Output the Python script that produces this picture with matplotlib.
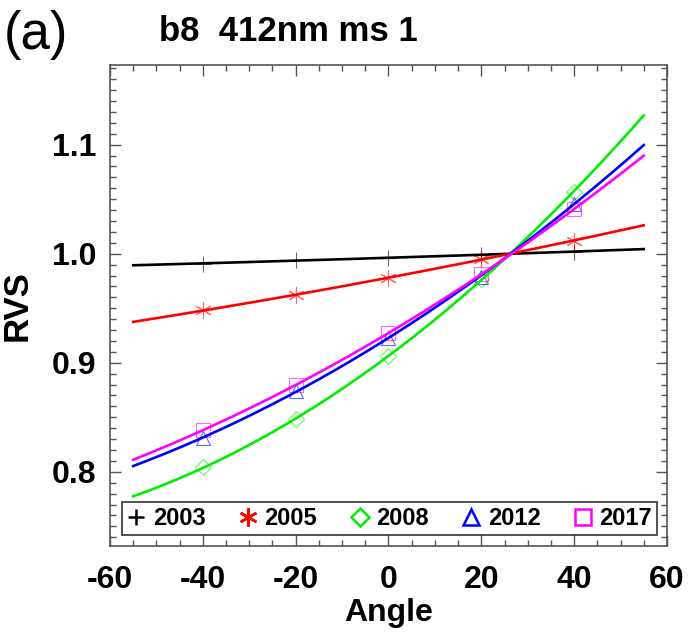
import numpy as np
import matplotlib
matplotlib.use("Agg")
import matplotlib.pyplot as plt
from matplotlib.ticker import MultipleLocator

plt.rcParams["font.family"] = ["Liberation Sans", "DejaVu Sans"]
plt.rcParams["axes.unicode_minus"] = False

# Data
angles = [-40, -20, 0, 20, 40]
years = ["2003", "2005", "2008", "2012", "2017"]
rvs_2003 = [0.991, 0.994, 0.996, 0.999, 1.002]
rvs_2005 = [0.948, 0.962, 0.978, 0.995, 1.012]
rvs_2008 = [0.804, 0.848, 0.906, 0.977, 1.057]
rvs_2012 = [0.831, 0.874, 0.923, 0.979, 1.046]
rvs_2017 = [0.838, 0.880, 0.927, 0.981, 1.041]
fit_range = [-55, 55]

series = [rvs_2003, rvs_2005, rvs_2008, rvs_2012, rvs_2017]
colors = ["black", "#ff0000", "#00ee00", "#0000ff", "#ff00ff"]
markers = ["+", (6, 2, 0), "D", "^", "s"]
msizes = [11, 12, 8, 10, 10]

fig = plt.figure(figsize=(6.9, 6.38), dpi=100)
ax = fig.add_axes([0.1594, 0.1442, 0.8072, 0.7539])

xf = np.linspace(fit_range[0], fit_range[1], 200)
handles = []
for vals, c, m, ms, lab in zip(series, colors, markers, msizes, years):
    # quadratic fit through the measured points
    coef = np.polyfit(angles, vals, 2)
    ax.plot(xf, np.polyval(coef, xf), color=c, lw=1.9, zorder=3)
    ax.plot(angles, vals, linestyle="none", marker=m, ms=ms,
            mfc="none", mec=c, mew=0.8, alpha=0.6, zorder=2)
    h, = ax.plot([], [], linestyle="none", marker=m, ms=ms + 1,
                 mfc="none", mec=c, mew=1.8, label=lab)
    handles.append(h)

ax.set_xlim(-60, 60)
ax.set_ylim(0.732, 1.173)
ax.set_xticks([-60, -40, -20, 0, 20, 40, 60])
ax.set_yticks([0.8, 0.9, 1.0, 1.1])
ax.set_yticklabels(["0.8", "0.9", "1.0", "1.1"])
ax.xaxis.set_minor_locator(MultipleLocator(5))
ax.yaxis.set_minor_locator(MultipleLocator(0.01))
ax.tick_params(which="both", direction="in", top=True, right=True,
               color="#555555", width=1)
ax.tick_params(which="major", length=8, labelsize=23, pad=10)
ax.tick_params(which="minor", length=4)
ax.tick_params(axis="x", pad=14)
for lbl in ax.get_xticklabels() + ax.get_yticklabels():
    lbl.set_fontweight("bold")
for sp in ax.spines.values():
    sp.set_color("#555555")
    sp.set_linewidth(1.2)

ax.set_xlabel("Angle", fontsize=23, fontweight="bold", labelpad=2)
ax.set_ylabel("RVS", fontsize=25, fontweight="bold", labelpad=13)

leg = ax.legend(handles=handles, loc="lower left", ncol=5,
                bbox_to_anchor=(0.0215, 0.023, 0.9605, 0.069), mode="expand",
                prop={"weight": "bold", "size": 17}, frameon=True,
                fancybox=False, borderpad=0.2, handlelength=0.8,
                handletextpad=0.3, columnspacing=1.0, borderaxespad=0)
leg.get_frame().set_edgecolor("black")
leg.get_frame().set_linewidth(1.2)

fig.text(0.418, 0.951, "b8  412nm ms 1", fontsize=25, fontweight="bold",
         ha="center", va="center")
fig.text(0.005, 0.945, "(a)", fontsize=38, ha="left", va="center")

fig.savefig("out.png", dpi=100)
